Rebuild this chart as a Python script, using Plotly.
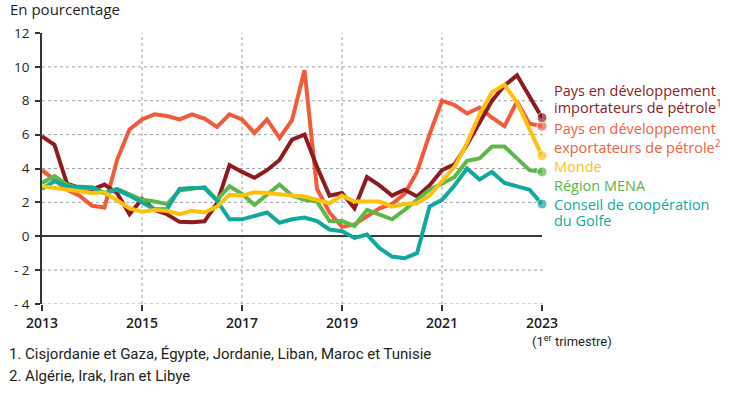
import plotly.graph_objects as go

# ---------------- data (quarterly, 2013T1 .. 2023T1) ----------------
quarters = [f"{y}T{q}" for y in range(2013, 2023) for q in range(1, 5)] + ["2023T1"]
x_years = [int(s[:4]) + (int(s[-1]) - 1) / 4 for s in quarters]

importateurs = [5.9, 5.4, 3.1, 2.85, 2.75, 3.05, 2.55, 1.3, 2.2, 1.55,
                1.3, 0.85, 0.82, 0.88, 1.95, 4.2, 3.8, 3.45, 3.9, 4.5,
                5.7, 6.0, 4.1, 2.4, 2.55, 1.65, 3.5, 3.0, 2.4, 2.75,
                2.35, 3.0, 3.9, 4.25, 5.4, 6.7, 8.0, 8.9, 9.5, 8.25, 7.0]
exportateurs = [3.9, 3.35, 2.75, 2.4, 1.8, 1.7, 4.5, 6.3, 6.9, 7.2,
                7.1, 6.9, 7.2, 6.95, 6.45, 7.2, 6.9, 6.1, 6.9, 5.8,
                6.85, 9.8, 2.8, 1.4, 0.55, 0.7, 1.2, 1.65, 1.9, 2.5,
                3.8, 6.0, 8.0, 7.75, 7.25, 7.6, 7.0, 6.5, 7.95, 6.65, 6.5]
monde = [2.95, 2.85, 2.75, 2.6, 2.55, 2.6, 2.1, 1.65, 1.45, 1.55,
         1.5, 1.3, 1.5, 1.4, 1.75, 2.45, 2.4, 2.6, 2.55, 2.45,
         2.4, 2.35, 2.15, 1.95, 2.4, 2.05, 2.05, 2.05, 1.75, 1.9,
         1.95, 2.4, 3.25, 4.1, 5.5, 7.2, 8.5, 8.95, 7.9, 6.3, 4.75]
mena = [3.15, 3.55, 3.05, 2.8, 2.85, 2.55, 2.8, 2.45, 2.15, 2.05,
        1.9, 2.7, 2.8, 2.9, 2.15, 2.95, 2.5, 1.85, 2.45, 3.05,
        2.4, 2.15, 2.05, 0.9, 0.9, 0.6, 1.55, 1.27, 1.0, 1.55,
        2.15, 2.75, 3.1, 3.5, 4.45, 4.6, 5.3, 5.3, 4.6, 3.9, 3.8]
ccg = [2.8, 3.25, 2.95, 2.95, 2.9, 2.55, 2.75, 2.4, 2.0, 1.6,
       1.6, 2.8, 2.85, 2.85, 2.1, 1.0, 1.0, 1.2, 1.4, 0.8,
       1.0, 1.1, 0.9, 0.4, 0.3, -0.1, 0.1, -0.7, -1.2, -1.3,
       -1.0, 1.75, 2.15, 3.0, 4.0, 3.35, 3.8, 3.15, 2.95, 2.75, 1.9]

y_ticks = [-4, -2, 0, 2, 4, 6, 8, 10, 12]
y_tick_text = ["- 4", "- 2", "0", "2", "4", "6", "8", "10", "12"]
x_ticks = [2013, 2015, 2017, 2019, 2021, 2023]
x_tick_text = ["2013", "2015", "2017", "2019", "2021", "2023"]

legend_lines = [
    ("Pays en développement", "imp"),
    ("importateurs de pétrole<sup>1</sup>", "imp"),
    ("Pays en développement", "exp"),
    ("exportateurs de pétrole<sup>2</sup>", "exp"),
    ("Monde", "mon"),
    ("Région MENA", "mena"),
    ("Conseil de coopération", "ccg"),
    ("du Golfe", "ccg"),
]
footnotes = ["1. Cisjordanie et Gaza, Égypte, Jordanie, Liban, Maroc et Tunisie",
             "2. Algérie, Irak, Iran et Libye"]
last_label = "(1<sup>er</sup> trimestre)"

# ---------------- style ----------------
colors = {"imp": "#8E1C1E", "exp": "#F15B3C", "mon": "#FDC210",
          "mena": "#5CB848", "ccg": "#12A99C"}
text_colors = {"imp": "#8E1C1E", "exp": "#F0603F", "mon": "#F9C418",
               "mena": "#5BB548", "ccg": "#12A99C"}

W, H = 739, 415
L, R, T, B = 42, 197, 33, 111
PW, PH = W - L - R, H - T - B


def px(xp):
    return (xp - L) / PW


def py(yp):
    return (H - B - yp) / PH


series = [("exp", exportateurs), ("imp", importateurs), ("mena", mena),
          ("ccg", ccg), ("mon", monde)]

fig = go.Figure()
for key, vals in series:
    n = len(vals)
    fig.add_trace(go.Scatter(
        x=x_years, y=vals, mode="lines+markers",
        line=dict(color=colors[key], width=4),
        marker=dict(size=[0] * (n - 1) + [10], color=colors[key]),
        cliponaxis=False, showlegend=False, hoverinfo="skip"))

shapes = []
for v in y_ticks:
    if v in (0, 12):
        continue
    shapes.append(dict(type="line", xref="paper", yref="y", x0=0, x1=1.003,
                       y0=v, y1=v, line=dict(color="#A0A0A0", width=1, dash="dot"),
                       layer="below"))
for v in x_ticks[1:-1]:
    shapes.append(dict(type="line", xref="x", yref="paper", x0=v, x1=v,
                       y0=0, y1=1, line=dict(color="#A0A0A0", width=1, dash="dot"),
                       layer="below"))

ann = []
ann.append(dict(text="En pourcentage", xref="paper", yref="paper",
                x=px(8), y=py(9), xanchor="left", yanchor="middle",
                showarrow=False, font=dict(size=15, color="#231F20", family="Open Sans")))
leg_y = [90, 107, 128, 146, 166, 185, 204, 221]
for (txt, key), yy in zip(legend_lines, leg_y):
    ann.append(dict(text=txt, xref="paper", yref="paper", x=px(552), y=py(yy),
                    xanchor="left", yanchor="middle", showarrow=False,
                    font=dict(size=14.5, color=text_colors[key], family="Open Sans")))
for txt, yy in zip(footnotes, [354, 376]):
    ann.append(dict(text=txt, xref="paper", yref="paper", x=px(7), y=py(yy),
                    xanchor="left", yanchor="middle", showarrow=False,
                    font=dict(size=15, color="#231F20", family="Roboto")))
ann.append(dict(text=last_label, xref="paper", yref="paper",
                x=px(572), y=py(341), xanchor="center", yanchor="middle",
                showarrow=False,
                font=dict(size=13, color="#231F20", family="Roboto")))

fig.update_layout(
    width=W, height=H, margin=dict(l=L, r=R, t=T, b=B, pad=0),
    paper_bgcolor="white", plot_bgcolor="white",
    shapes=shapes, annotations=ann,
    xaxis=dict(range=[2013, 2023], tickvals=x_ticks, ticktext=x_tick_text,
               showgrid=False, zeroline=False, showline=False,
               ticks="outside", ticklen=6, tickwidth=1.5, tickcolor="#333",
               tickfont=dict(size=14, color="#231F20", family="Open Sans", weight=600)),
    yaxis=dict(range=[-4, 12], tickvals=y_ticks, ticktext=y_tick_text,
               showgrid=False, zeroline=True, zerolinecolor="#3A3A3A", zerolinewidth=1.6,
               showline=True, linecolor="#333", linewidth=1.6,
               ticks="outside", ticklen=5, tickwidth=1.5, tickcolor="#333",
               ticklabelstandoff=3,
               tickfont=dict(size=13.5, color="#231F20", family="Open Sans")),
)

fig.write_html("out.html")
